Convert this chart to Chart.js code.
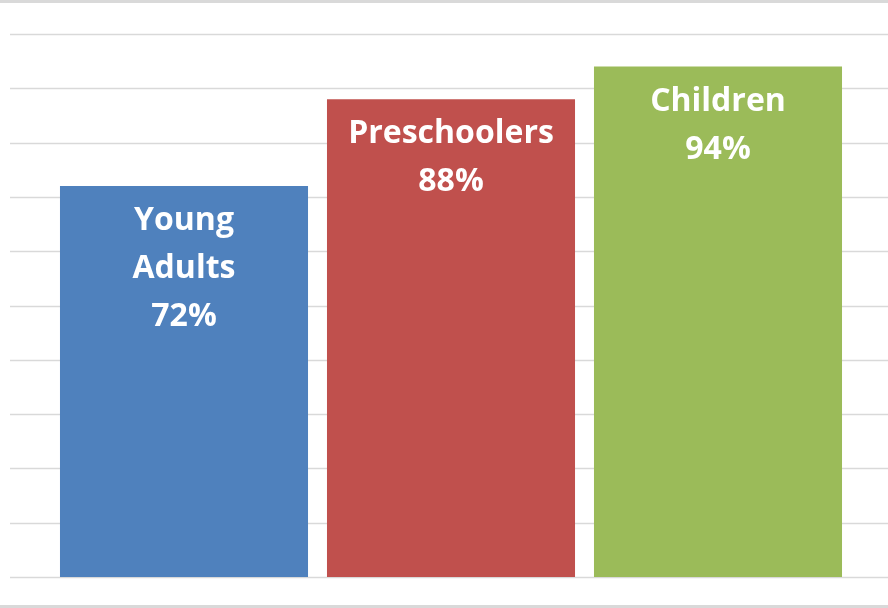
<!DOCTYPE html>
<html>
<head>
<meta charset="utf-8">
<script src="https://cdn.jsdelivr.net/npm/chart.js@4/dist/chart.umd.min.js"></script>
<style>
html,body{margin:0;padding:0;background:#fff;}
#wrap{width:888px;height:608px;position:relative;}
</style>
</head>
<body>
<div id="wrap"><canvas id="c" width="888" height="608"></canvas></div>
<script>
const categories = ["Young Adults", "Preschoolers", "Children"];
const labelLines = [["Young", "Adults"], ["Preschoolers"], ["Children"]];
const values = [72, 88, 94];
const barColors = ["#4F81BD", "#C0504D", "#9BBB59"];
const yTicks = [0, 10, 20, 30, 40, 50, 60, 70, 80, 90, 100];

const frameAndGrid = {
  id: 'frameAndGrid',
  beforeDatasetsDraw(chart) {
    const ctx = chart.ctx;
    const y = chart.scales.y;
    ctx.save();
    ctx.strokeStyle = '#d9d9d9';
    ctx.lineWidth = 1.5;
    yTicks.forEach(t => {
      const py = Math.round(y.getPixelForValue(t)) + 0.5;
      ctx.beginPath();
      ctx.moveTo(10, py);
      ctx.lineTo(chart.width, py);
      ctx.stroke();
    });
    ctx.strokeStyle = '#d9d9d9';
    ctx.lineWidth = 3;
    ctx.beginPath();
    ctx.moveTo(0, 1.5); ctx.lineTo(chart.width, 1.5);
    ctx.moveTo(0, 606.5); ctx.lineTo(chart.width, 606.5);
    ctx.stroke();
    ctx.restore();
  },
  afterDatasetsDraw(chart) {
    const ctx = chart.ctx;
    const meta = chart.getDatasetMeta(0);
    ctx.save();
    ctx.fillStyle = '#ffffff';
    ctx.font = 'bold 32px "Open Sans", Lato, sans-serif';
    ctx.textAlign = 'center';
    ctx.textBaseline = 'middle';
    meta.data.forEach((bar, i) => {
      const lines = labelLines[i].concat([values[i] + '%']);
      lines.forEach((ln, k) => {
        ctx.fillText(ln, bar.x, bar.y + 35 + k * 48);
      });
    });
    ctx.restore();
  }
};

new Chart(document.getElementById('c'), {
  type: 'bar',
  data: {
    labels: categories,
    datasets: [{
      data: values,
      backgroundColor: barColors,
      borderWidth: 0,
      categoryPercentage: 1,
      barPercentage: 0.929
    }]
  },
  options: {
    responsive: false,
    animation: false,
    devicePixelRatio: 1,
    layout: { padding: { top: 34, bottom: 31, left: 50.5, right: 36.5 } },
    plugins: { legend: { display: false }, tooltip: { enabled: false }, title: { display: false } },
    scales: {
      x: { display: false },
      y: { display: false, min: 0, max: 100 }
    }
  },
  plugins: [frameAndGrid]
});
</script>
</body>
</html>
